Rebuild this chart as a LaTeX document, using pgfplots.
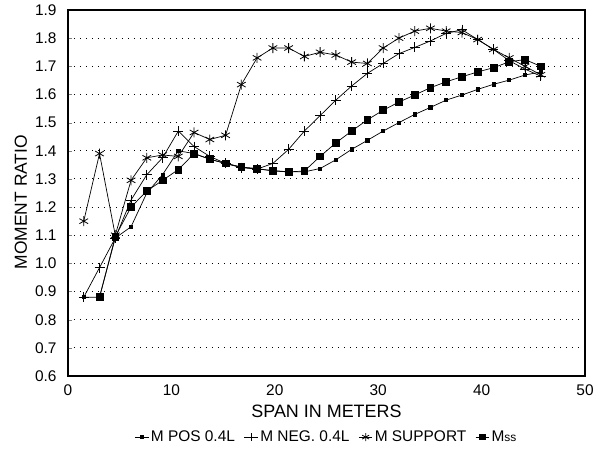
\documentclass[border=0pt]{standalone}
\usepackage{pgfplots}
\pgfplotsset{compat=1.18}
\usepackage{fontspec}
\setmainfont{Liberation Sans}
\begin{document}
\begin{tikzpicture}
\begin{axis}[
  name=ax,
  scale only axis,
  width=517bp, height=366bp,
  xmin=0, xmax=50, ymin=0.6, ymax=1.9,
  xtick={0,10,...,50},
  ytick={0.6,0.7,...,1.9},
  yticklabel style={/pgf/number format/fixed,/pgf/number format/fixed zerofill,/pgf/number format/precision=1, xshift=-8bp},
  xticklabel style={yshift=-5bp},
  /pgf/number format/assume math mode=true,
  tick label style={font=\fontsize{15.5}{15.5}\selectfont},
  xlabel={SPAN IN METERS},
  ylabel={MOMENT RATIO},
  xlabel style={at={(axis description cs:0.5,-0.0956)}, anchor=center, font=\fontsize{18}{18}\selectfont},
  ylabel style={at={(axis description cs:-0.091,0.475)}, anchor=center, font=\fontsize{17.5}{17.5}\selectfont},
  axis line style={line width=1.6bp},
  tick pos=left,
  tick align=inside,
  major tick length=4bp,
  xtick style={draw=none},
  ymajorgrids,
  grid style={black, line width=1.1bp, dash pattern=on 1.1bp off 4.9bp},
  legend columns=4,
  legend style={draw=none, at={(0.5,-0.167)}, anchor=center, font=\fontsize{15.5}{15.5}\selectfont,
    /tikz/every even column/.append style={column sep=7bp}},
  legend image post style={scale=0.8},
  legend cell align=left,
]
\addplot[black, line width=0.7bp, mark=square*, mark size=1.6bp] coordinates {
(1.524,0.88) (3.048,0.88) (4.572,1.09) (6.096,1.13) (7.62,1.25) (9.144,1.315)
(10.668,1.40) (12.192,1.39) (13.716,1.37) (15.24,1.355) (16.764,1.342) (18.288,1.335)
(19.812,1.33) (21.336,1.325) (22.86,1.325) (24.384,1.337) (25.908,1.368) (27.432,1.405)
(28.956,1.437) (30.48,1.47) (32.004,1.50) (33.528,1.529) (35.052,1.554) (36.576,1.58)
(38.1,1.598) (39.624,1.618) (41.148,1.636) (42.672,1.651) (44.196,1.669) (45.72,1.68)
};
\addlegendentry{M POS 0.4L}
\addplot[black, line width=0.7bp, mark=+, mark size=5bp, mark options={line width=0.8bp}] coordinates {
(1.524,0.88) (3.048,0.985) (4.572,1.09) (6.096,1.225) (7.62,1.315) (9.144,1.375)
(10.668,1.47) (12.192,1.415) (13.716,1.38) (15.24,1.355) (16.764,1.34) (18.288,1.335)
(19.812,1.355) (21.336,1.405) (22.86,1.47) (24.384,1.525) (25.908,1.58) (27.432,1.63)
(28.956,1.675) (30.48,1.71) (32.004,1.745) (33.528,1.767) (35.052,1.79) (36.576,1.817)
(38.1,1.83) (39.624,1.795) (41.148,1.76) (42.672,1.72) (44.196,1.69) (45.72,1.665)
};
\addlegendentry{M NEG. 0.4L}
\addplot[black, line width=0.7bp, mark=asterisk, mark size=5bp, mark options={line width=0.8bp}] coordinates {
(1.524,1.15) (3.048,1.39) (4.572,1.10) (6.096,1.295) (7.62,1.375) (9.144,1.385)
(10.668,1.38) (12.192,1.465) (13.716,1.44) (15.24,1.455) (16.764,1.635) (18.288,1.73)
(19.812,1.765) (21.336,1.765) (22.86,1.735) (24.384,1.75) (25.908,1.74) (27.432,1.715)
(28.956,1.71) (30.48,1.765) (32.004,1.80) (33.528,1.825) (35.052,1.835) (36.576,1.825)
(38.1,1.82) (39.624,1.795) (41.148,1.76) (42.672,1.73) (44.196,1.70) (45.72,1.67)
};
\addlegendentry{M SUPPORT}
\addplot[black, line width=0.7bp, mark=square*, mark size=3.4bp] coordinates {
(3.048,0.88) (4.572,1.095) (6.096,1.20) (7.62,1.257) (9.144,1.295)
(10.668,1.333) (12.192,1.39) (13.716,1.37) (15.24,1.355) (16.764,1.342) (18.288,1.337)
(19.812,1.328) (21.336,1.325) (22.86,1.328) (24.384,1.38) (25.908,1.428) (27.432,1.47)
(28.956,1.51) (30.48,1.544) (32.004,1.573) (33.528,1.598) (35.052,1.624) (36.576,1.645)
(38.1,1.663) (39.624,1.68) (41.148,1.695) (42.672,1.716) (44.196,1.724) (45.72,1.70)
};
\addlegendentry{M{\fontsize{12}{12}\selectfont ss}}
\end{axis}
\pgfresetboundingbox
\path ([shift={(-68bp,-79bp)}]ax.south west) rectangle ([shift={(17bp,10bp)}]ax.north east);
\end{tikzpicture}
\end{document}
